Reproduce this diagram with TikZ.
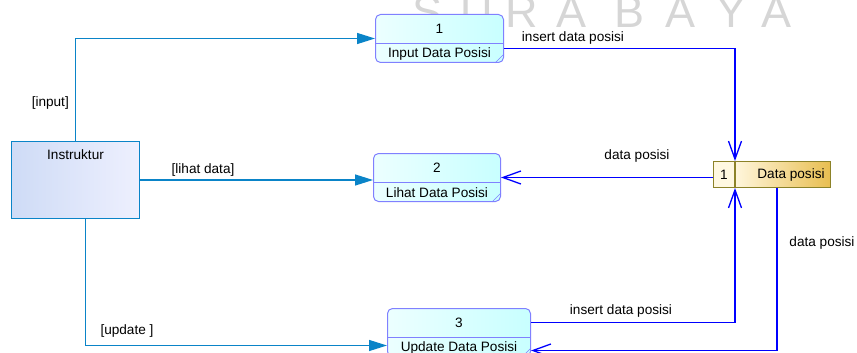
\documentclass[tikz,border=0pt]{standalone}
\usepackage{fontspec}
\setmainfont{Liberation Sans}
\usetikzlibrary{arrows.meta,calc,positioning}
\definecolor{ActorClr}{RGB}{10,132,200}
\definecolor{FlowClr}{RGB}{0,0,255}
\definecolor{ProcClr}{RGB}{128,128,255}
\definecolor{StoreClr}{RGB}{140,130,40}
\definecolor{GoldClr}{RGB}{232,190,80}
\definecolor{MarkClr}{RGB}{214,214,214}

\begin{document}
\begin{tikzpicture}[x=1pt,y=-1pt,
  every node/.style={font=\fontsize{13.6}{15}\selectfont,inner sep=0pt},
  proc/.style={draw=ProcClr,line width=1pt,rounded corners=5pt,anchor=north west,
    left color={rgb,255:red,236;green,255;blue,255},right color={rgb,255:red,200;green,255;blue,255},
    minimum height=48pt},
  actor/.style={draw=ActorClr,line width=1pt,anchor=north west,minimum width=128pt,minimum height=77pt,
    left color={rgb,255:red,206;green,219;blue,246},right color={rgb,255:red,238;green,240;blue,254}},
  actflow/.style={draw=ActorClr,line width=1.3pt,-{Triangle[length=18pt,width=11pt]}},
  dflow/.style={draw=FlowClr,line width=1.3pt,-{Straight Barb[length=18pt,width=13pt]}}]
\useasboundingbox (0,0) rectangle (857,353);

\foreach \l/\x in {S/428,U/477,R/522,A/572,B/630,A/681,Y/731,A/776}
  \node[anchor=base,text=MarkClr,font=\fontsize{45}{45}\selectfont] at (\x,28) {\l};

\node[actor] (act) at (11,141) {};
\node at ($(act.north)+(0,14)$) {Instruktur};

\node[proc,minimum width=128pt] (p1) at (375,14) {};
\node[proc,minimum width=127pt] (p2) at (373,153) {};
\node[proc,minimum width=143pt] (p3) at (387,308) {};
\foreach \p/\n/\t in {p1/1/Input Data Posisi,p2/2/Lihat Data Posisi,p3/3/Update Data Posisi}{
  \draw[ProcClr,line width=1pt] ($(\p.west)+(0,5)$) -- ($(\p.east)+(0,5)$);
  \draw[ProcClr] ($(\p.south east)+(-9,0)$) -- ($(\p.south east)+(0,-9)$);
  \node at ($(\p.center)+(0,-10)$) {\n};
  \node at ($(\p.center)+(0,15)$) {\t};
}

\node[draw=StoreClr,line width=1pt,fill={rgb,255:red,255;green,248;blue,225},anchor=north west,
  minimum width=21pt,minimum height=26pt] (sn) at (713,161) {};
\node[draw=StoreClr,line width=1pt,left color={rgb,255:red,255;green,246;blue,220},right color=GoldClr,
  anchor=west,minimum width=95pt,minimum height=26pt] (sr) at (sn.east) {};
\node at (sn.center) {1};
\node at ($(sr.center)+(8,0)$) {Data posisi};

\draw[actflow] (act.north) |- (p1.west);
\draw[actflow] (act.east) -- (act.east -| p2.west);
\draw[actflow] ($(act.south)+(10,0)$) |- ($(p3.west)+(0,13)$);

\draw[dflow] ($(p1.east)+(0,10)$) -| (sn.north east);
\draw[dflow] (sn.west |- p2.east) -- (p2.east);
\draw[dflow] ($(p3.east)+(0,-10)$) -| (sn.south east);
\draw[dflow] ($(sr.south)+(-6,0)$) |- ($(p3.east)+(0,18)$);

\node[anchor=east] (linput) at (69,103) {[input]};
\node (llihat) at (203,170) {[lihat data]};
\node (lupdate) at (127,331) {[update ]};
\node (lins1) at (573,38) {insert data posisi};
\node (ldata1) at (637,156) {data posisi};
\node (lins2) at (621,311) {insert data posisi};
\node (ldata2) at (822,243) {data posisi};
\end{tikzpicture}
\end{document}
